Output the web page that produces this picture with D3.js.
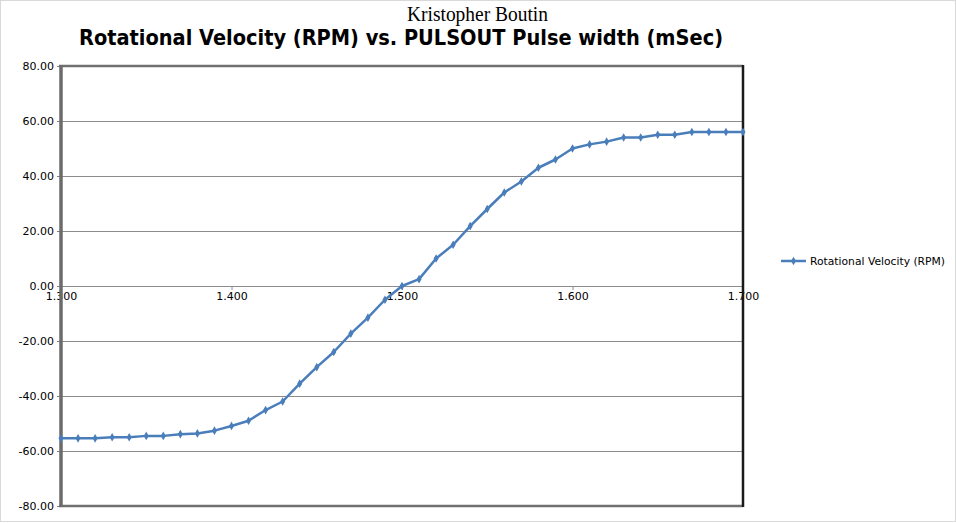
<!DOCTYPE html>
<html><head><meta charset="utf-8">
<script src="https://cdn.jsdelivr.net/npm/d3@7"></script>
<style>body{margin:0;background:#fff}svg{display:block}</style>
</head><body>
<svg id="c" width="956" height="523"></svg>
<script>
const pulseWidths = [1.30,1.31,1.32,1.33,1.34,1.35,1.36,1.37,1.38,1.39,1.40,1.41,1.42,1.43,1.44,1.45,1.46,1.47,1.48,1.49,1.50,1.51,1.52,1.53,1.54,1.55,1.56,1.57,1.58,1.59,1.60,1.61,1.62,1.63,1.64,1.65,1.66,1.67,1.68,1.69,1.70];
const rpmValues = [-55.4,-55.4,-55.4,-55.0,-55.0,-54.5,-54.5,-53.9,-53.6,-52.6,-50.9,-49.0,-45.1,-42.0,-35.5,-29.5,-24.0,-17.3,-11.5,-5.0,0.0,2.5,10.0,15.0,21.8,28.0,34.0,38.0,43.0,46.0,50.0,51.5,52.5,54.0,54.0,55.0,55.0,56.0,56.0,56.0,56.0];
const xTicks = [1.3,1.4,1.5,1.6,1.7];
const yTicks = [-80,-60,-40,-20,0,20,40,60,80];
const seriesName = "Rotational Velocity (RPM)";
const chartTitle = "Rotational Velocity (RPM) vs. PULSOUT Pulse width (mSec)";
const subTitle = "Kristopher Boutin";

const svg = d3.select("#c");
const L = 61, R = 743, T = 66, B = 506;
const x = d3.scaleLinear().domain([1.3,1.7]).range([L,R]);
const y = d3.scaleLinear().domain([-80,80]).range([B,T]);
const blue = "#4a7ebb";

svg.append("rect").attr("x",0.5).attr("y",0.5).attr("width",955).attr("height",521)
  .attr("fill","#fff").attr("stroke","#d9d9d9");

svg.append("g").selectAll("line").data(yTicks.filter(d=>d!==80 && d!==-80)).join("line")
  .attr("x1",L).attr("x2",R).attr("y1",d=>y(d)).attr("y2",d=>y(d))
  .attr("stroke","#8c8c8c").attr("stroke-width",1).attr("shape-rendering","crispEdges");

const yAxis = d3.axisLeft(y).tickValues(yTicks).tickFormat(d=>d.toFixed(2)).tickSize(4).tickPadding(3);
const gy = svg.append("g").attr("transform",`translate(${L},0)`).call(yAxis);
gy.select(".domain").remove();
gy.selectAll(".tick line").attr("stroke","#808080");
gy.selectAll("text").attr("font-family","DejaVu Sans").attr("font-size",11).attr("fill","#000");

const xAxis = d3.axisBottom(x).tickValues(xTicks).tickFormat(d=>d.toFixed(3)).tickSize(4).tickPadding(2);
const gx = svg.append("g").attr("transform",`translate(0,${y(0)})`).call(xAxis);
gx.select(".domain").attr("stroke","#8c8c8c");
gx.selectAll(".tick line").attr("stroke","#8c8c8c");
gx.selectAll("text").attr("font-family","DejaVu Sans").attr("font-size",11).attr("fill","#000");

svg.append("line").attr("x1",L-2).attr("x2",R).attr("y1",T).attr("y2",T).attr("stroke","#707070").attr("stroke-width",2.5);
svg.append("line").attr("x1",L-2).attr("x2",R).attr("y1",B).attr("y2",B).attr("stroke","#707070").attr("stroke-width",2.5);
svg.append("line").attr("x1",L).attr("x2",L).attr("y1",T-1).attr("y2",B+1).attr("stroke","#6b6b6b").attr("stroke-width",3.5);
svg.append("line").attr("x1",R).attr("x2",R).attr("y1",T-1).attr("y2",B+1).attr("stroke","#1a1a1a").attr("stroke-width",2.5);

const data = pulseWidths.map((p,i)=>({p,v:rpmValues[i]}));
const line = d3.line().x(d=>x(d.p)).y(d=>y(d.v));
svg.append("path").datum(data).attr("d",line).attr("fill","none")
  .attr("stroke",blue).attr("stroke-width",2.5).attr("stroke-linejoin","round");
const diamond = d3.symbol().type(d3.symbolDiamond).size(22);
svg.append("g").selectAll("path").data(data).join("path")
  .attr("transform",d=>`translate(${x(d.p)},${y(d.v)})`).attr("d",diamond).attr("fill",blue);

const lg = svg.append("g").attr("transform","translate(781,261)");
lg.append("line").attr("x1",0).attr("x2",25).attr("stroke",blue).attr("stroke-width",2.5);
lg.append("path").attr("transform","translate(12.5,0)").attr("d",diamond).attr("fill",blue);
lg.append("text").attr("x",29).attr("y",4).attr("font-family","DejaVu Sans").attr("font-size",11)
  .attr("fill","#000").attr("textLength",135).attr("lengthAdjust","spacingAndGlyphs").text(seriesName);

svg.append("text").attr("x",477.5).attr("y",21).attr("text-anchor","middle")
  .attr("font-family","Liberation Serif").attr("font-size",21).attr("fill","#000")
  .attr("textLength",141).attr("lengthAdjust","spacingAndGlyphs").text(subTitle);
svg.append("text").attr("x",401).attr("y",45).attr("text-anchor","middle")
  .attr("font-family","DejaVu Sans").attr("font-weight","bold").attr("font-size",20.5).attr("fill","#000")
  .attr("textLength",644).attr("lengthAdjust","spacingAndGlyphs").text(chartTitle);
</script>
</body></html>
